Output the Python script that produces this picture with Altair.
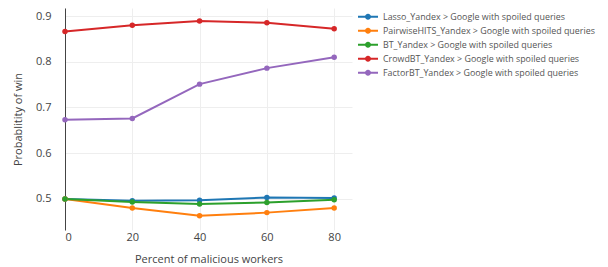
import altair as alt
import pandas as pd

x_vals = [0, 20, 40, 60, 80]
series_names = [
    "Lasso_Yandex > Google with spoiled queries",
    "PairwiseHITS_Yandex > Google with spoiled queries",
    "BT_Yandex > Google with spoiled queries",
    "CrowdBT_Yandex > Google with spoiled queries",
    "FactorBT_Yandex > Google with spoiled queries",
]
lasso = [0.500, 0.496, 0.497, 0.503, 0.502]
pairwise = [0.500, 0.480, 0.463, 0.470, 0.480]
bt = [0.500, 0.493, 0.489, 0.492, 0.498]
crowdbt = [0.866, 0.880, 0.889, 0.885, 0.872]
factorbt = [0.673, 0.676, 0.751, 0.786, 0.810]
colors = ["#1f77b4", "#ff7f0e", "#2ca02c", "#d62728", "#9467bd"]

rows = []
for i, (name, vals) in enumerate(zip(series_names, [lasso, pairwise, bt, crowdbt, factorbt])):
    for x, v in zip(x_vals, vals):
        rows.append({"x": x, "y": v, "series": name, "order": i})
df = pd.DataFrame(rows)

font = "Open Sans"
sym_path = ("M-1,-0.1H1V0.1H-1Z "
            "M0.3,0A0.3,0.3 0 1,1 -0.3,0A0.3,0.3 0 1,1 0.3,0Z")

xenc = alt.X("x:Q", scale=alt.Scale(domain=[0, 85.3], nice=False, zero=False),
             axis=alt.Axis(values=x_vals, title="Percent of malicious workers",
                           grid=True, domain=False, ticks=False, labelPadding=1,
                           titlePadding=11))
yenc = alt.Y("y:Q", scale=alt.Scale(domain=[0.432, 0.9175], nice=False, zero=False),
             axis=alt.Axis(values=[0.5, 0.6, 0.7, 0.8, 0.9], format=".1f",
                           title="Probablitity of win", grid=True, domain=True,
                           domainColor="#444", domainWidth=1,
                           ticks=False, labelPadding=14, titlePadding=12))
color = alt.Color("series:N", scale=alt.Scale(domain=series_names, range=colors),
                  sort=series_names,
                  legend=alt.Legend(title=None, orient="none", legendX=293, legendY=2,
                                    symbolType=sym_path, symbolSize=400,
                                    symbolStrokeWidth=0, labelFontSize=8.9,
                                    labelColor="#555", labelFont=font,
                                    labelOffset=5, clipHeight=13.3, rowPadding=0,
                                    labelLimit=300))

base = alt.Chart(df)
lines = base.mark_line(strokeWidth=2).encode(
    x=xenc, y=yenc, color=color, detail="series:N", order="x:Q")
points = base.mark_point(filled=True, size=30, opacity=1).encode(
    x="x:Q", y="y:Q", color=color)

chart = alt.layer(lines, points).properties(
    width=287, height=222,
    autosize=alt.AutoSizeParams(type="none"),
    padding={"left": 57, "top": 0, "right": 248, "bottom": 37},
).configure_view(stroke=None).configure_axis(
    gridColor="#eeeeee", labelColor="#444", titleColor="#444",
    labelFont=font, titleFont=font, labelFontSize=11, titleFontSize=11,
    titleFontWeight="normal",
)

chart.save("out.html", embed_options={"renderer": "svg", "actions": False})
